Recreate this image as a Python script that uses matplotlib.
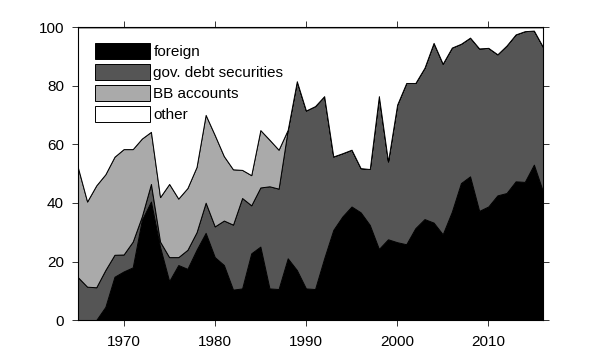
import matplotlib
matplotlib.use("Agg")
import matplotlib.pyplot as plt
import numpy as np

plt.rcParams['font.family'] = ['Liberation Sans', 'DejaVu Sans']

years = list(range(1965, 2017))

foreign = [0, 0, 0, 4.5, 14.8, 16.6, 18.0, 34.2, 40.5, 25.0,
           13.3, 18.8, 17.5, 24.0, 29.8, 21.5, 18.8, 10.4, 10.8, 22.8,
           25.1, 10.8, 10.6, 21.1, 17.1, 10.8, 10.6, 21.1, 30.8, 35.4,
           38.8, 36.8, 32.5, 24.3, 27.6, 26.6, 25.9, 31.4, 34.5, 33.3,
           29.3, 37.0, 46.8, 49.1, 37.3, 38.8, 42.6, 43.4, 47.4, 47.2,
           53.1, 43.9]

gov_debt = [14.6, 11.4, 11.2, 12.6, 7.5, 5.8, 8.8, 1.2, 6.0, 1.8,
            8.2, 2.7, 6.5, 6.0, 10.3, 10.5, 15.2, 22.2, 30.9, 16.4,
            20.2, 34.9, 34.3, 43.9, 64.5, 60.8, 62.5, 55.4, 25.1, 21.6,
            19.4, 15.1, 19.1, 52.2, 26.6, 47.0, 55.1, 49.6, 51.7, 61.4,
            58.3, 56.1, 47.6, 47.4, 55.5, 54.2, 48.2, 50.4, 50.2, 51.5,
            45.8, 49.4]

bb_accounts = [37.4, 29.1, 34.8, 32.7, 33.5, 36.0, 31.6, 26.6, 17.8, 15.2,
               25.0, 20.0, 21.1, 22.3, 30.0, 31.2, 22.0, 18.9, 9.6, 10.3,
               19.6, 15.9, 13.3, 0, 0, 0, 0, 0, 0, 0,
               0, 0, 0, 0, 0, 0, 0, 0, 0, 0,
               0, 0, 0, 0, 0, 0, 0, 0, 0, 0,
               0, 0]

other = [48.0, 59.5, 54.0, 50.2, 44.2, 41.6, 41.6, 38.0, 35.7, 58.0,
         53.5, 58.5, 54.9, 47.7, 29.9, 36.8, 44.0, 48.5, 48.7, 50.5,
         35.1, 38.4, 41.8, 35.0, 18.4, 28.4, 26.9, 23.5, 44.1, 43.0,
         41.8, 48.1, 48.4, 23.5, 45.8, 26.4, 19.0, 19.0, 13.8, 5.3,
         12.4, 6.9, 5.6, 3.5, 7.2, 7.0, 9.2, 6.2, 2.4, 1.3,
         1.1, 6.7]

labels = ['foreign', 'gov. debt securities', 'BB accounts', 'other']
colors = ['#000000', '#555555', '#aaaaaa', '#ffffff']

fig = plt.figure(figsize=(6, 3.6), dpi=100)
ax = fig.add_axes([0.13, 0.111, 0.775, 0.813])

polys = ax.stackplot(years, foreign, gov_debt, bb_accounts, other,
                     labels=labels, colors=colors,
                     edgecolor='black', linewidth=0.7)

ax.set_xlim(1965, 2016)
ax.set_ylim(0, 100)
ax.set_xticks([1970, 1980, 1990, 2000, 2010])
ax.set_yticks([0, 20, 40, 60, 80, 100])
ax.tick_params(direction='out', top=True, right=True, length=4, width=0.7,
               labelsize=11, color='#333333')
ax.tick_params(axis='x', pad=7)
ax.tick_params(axis='y', pad=6)
for s in ax.spines.values():
    s.set_linewidth(0.8)

leg = ax.legend(loc='upper left', bbox_to_anchor=(0.037, 0.945), frameon=False,
                fontsize=11, handlelength=3.6, handleheight=1.2,
                labelspacing=0.32, handletextpad=0.2, borderpad=0,
                borderaxespad=0)
for h in leg.legend_handles:
    h.set_edgecolor('black')
    h.set_linewidth(0.7)

fig.savefig('out.png', dpi=100)
